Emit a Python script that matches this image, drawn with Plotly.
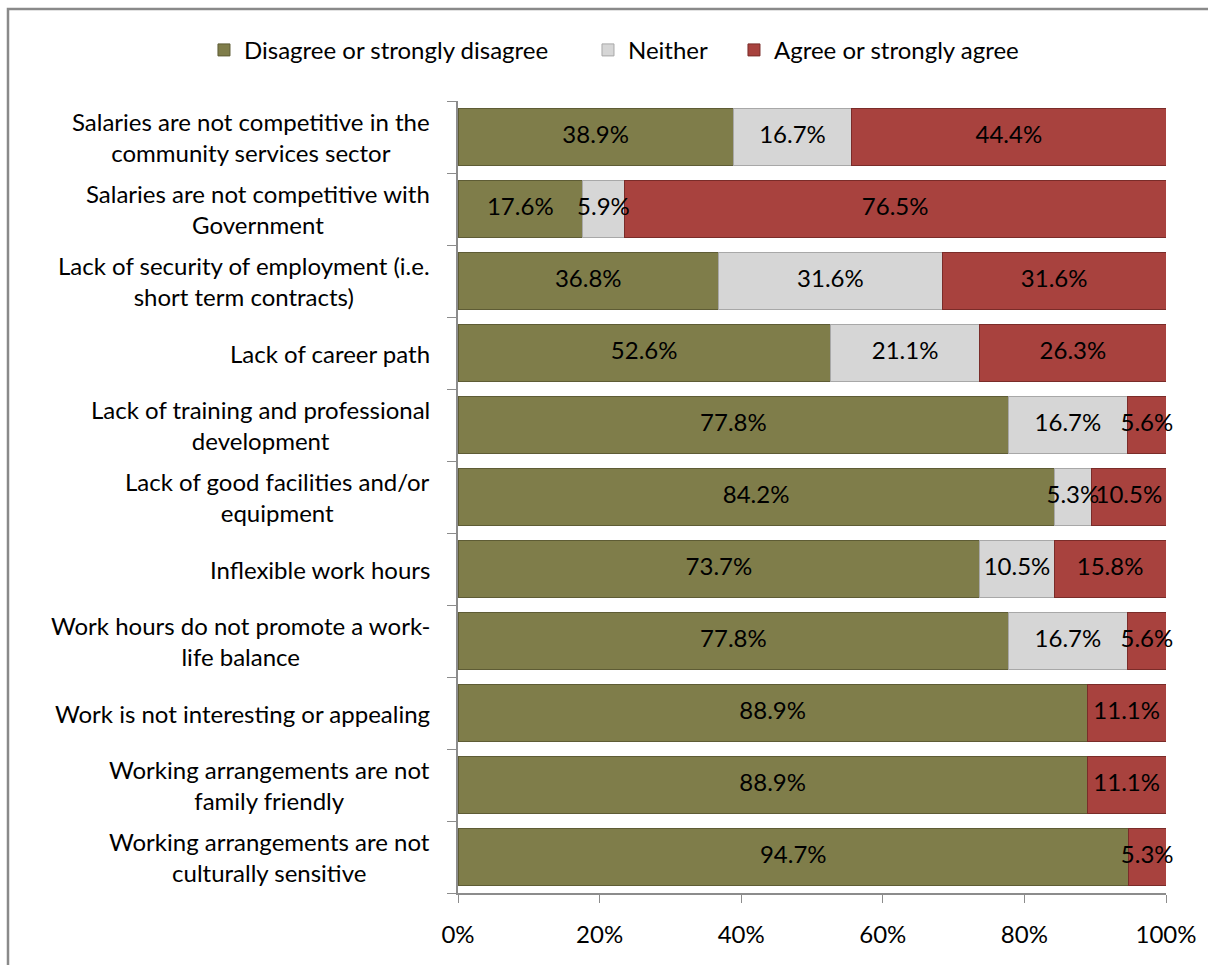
import plotly.graph_objects as go

# Survey items (top to bottom) and response shares in percent
categories = [
    "Salaries are not competitive in the<br>community services sector",
    "Salaries are not competitive with<br>Government",
    "Lack of security of employment (i.e.<br>short term contracts)",
    "Lack of career path",
    "Lack of training and professional<br>development",
    "Lack of good facilities and/or<br>equipment",
    "Inflexible work hours",
    "Work hours do not promote a work-<br>life balance",
    "Work is not interesting or appealing",
    "Working arrangements are not<br>family friendly",
    "Working arrangements are not<br>culturally sensitive",
]
disagree = [38.9, 17.6, 36.8, 52.6, 77.8, 84.2, 73.7, 77.8, 88.9, 88.9, 94.7]
neither = [16.7, 5.9, 31.6, 21.1, 16.7, 5.3, 10.5, 16.7, 0, 0, 0]
agree = [44.4, 76.5, 31.6, 26.3, 5.6, 10.5, 15.8, 5.6, 11.1, 11.1, 5.3]
x_ticks = [0, 20, 40, 60, 80, 100]
x_tick_labels = ["0%", "20%", "40%", "60%", "80%", "100%"]

# name, values, fill, outline, legend id, legend x (paper)
series = [
    ("Disagree or strongly disagree", disagree, "#7F7D4A", "#5E5C35", "legend", -0.3588),
    ("Neither", neither, "#D6D6D6", "#A8A8A8", "legend2", 0.1836),
    ("Agree or strongly agree", agree, "#A8423E", "#7A2C29", "legend3", 0.3898),
]

FONT = "Lato"
SIZE = 24
rows = list(range(len(categories)))

fig = go.Figure()
base = [0.0] * len(categories)
for name, vals, color, edge, leg, _ in series:
    fig.add_trace(go.Bar(
        y=rows,
        x=[v if v else None for v in vals],
        name=name,
        orientation="h",
        marker=dict(color=color, line=dict(color=edge, width=1)),
        legend=leg,
        hoverinfo="skip",
    ))
    # value labels centred on each segment, allowed to spill past the axis
    mids = [b + v / 2 for b, v in zip(base, vals)]
    fig.add_trace(go.Scatter(
        y=[r for r, v in zip(rows, vals) if v],
        x=[m for m, v in zip(mids, vals) if v],
        text=[f"{v:.1f}%" for v in vals if v],
        mode="text",
        textposition="middle center",
        textfont=dict(family=FONT, size=SIZE, color="black"),
        cliponaxis=False,
        showlegend=False,
        hoverinfo="skip",
    ))
    base = [b + v for b, v in zip(base, vals)]

# Category labels: centred lines, block right-aligned left of the axis
annotations = [
    dict(
        x=-0.0367, xref="paper", y=i, yref="y",
        text=label, showarrow=False,
        xanchor="right", yanchor="middle", align="center",
        font=dict(family=FONT, size=SIZE, color="black"),
    )
    for i, label in enumerate(categories)
]

legend_style = dict(
    orientation="h", xanchor="left", y=1.064, yanchor="middle",
    font=dict(family=FONT, size=SIZE, color="black"),
    itemwidth=30, bgcolor="rgba(0,0,0,0)",
)

fig.update_layout(
    width=1208, height=965,
    barmode="stack",
    bargap=0.21,
    plot_bgcolor="white",
    paper_bgcolor="white",
    margin=dict(l=458, r=42, t=101, b=72),
    font=dict(family=FONT, size=SIZE, color="black"),
    showlegend=True,
    annotations=annotations,
    legend=dict(legend_style, x=series[0][5]),
    legend2=dict(legend_style, x=series[1][5]),
    legend3=dict(legend_style, x=series[2][5]),
    xaxis=dict(
        range=[0, 100], tickvals=x_ticks, ticktext=x_tick_labels,
        showgrid=False, zeroline=False,
        showline=True, linecolor="#8C8C8C", linewidth=1.5,
        ticks="outside", ticklen=8, tickcolor="#8C8C8C",
        ticklabelstandoff=11,
        tickfont=dict(family=FONT, size=SIZE, color="black"),
    ),
    yaxis=dict(
        range=[len(categories) - 0.5, -0.5],
        tickvals=[i - 0.5 for i in range(len(categories) + 1)],
        showticklabels=False,
        showgrid=False, zeroline=False,
        showline=True, linecolor="#8C8C8C", linewidth=1.5,
        ticks="outside", ticklen=9, tickcolor="#8C8C8C",
    ),
    shapes=[dict(
        type="rect", xref="paper", yref="paper",
        x0=-0.6356, x1=1.3, y0=-0.3, y1=1.1162,
        line=dict(color="#8A8A8A", width=2.5), fillcolor="rgba(0,0,0,0)",
        layer="below",
    )],
)

fig.write_html("out.html")
